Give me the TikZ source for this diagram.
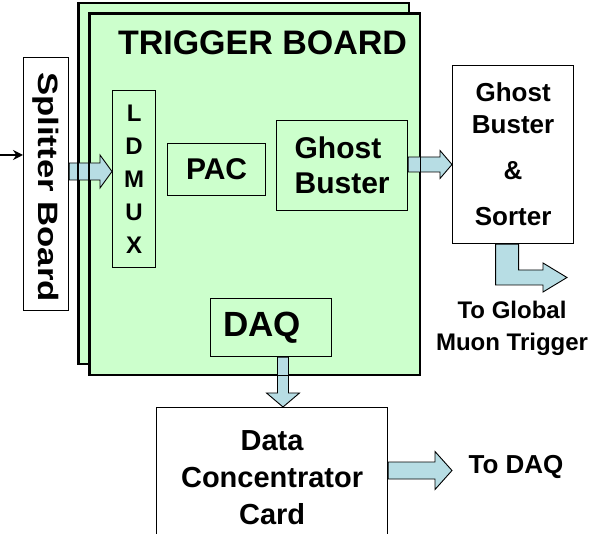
\documentclass[tikz,border=0pt]{standalone}
\usepackage{fontspec}
\setmainfont{Liberation Sans}
\usetikzlibrary{calc,arrows.meta}
\definecolor{boardgreen}{RGB}{204,255,204}
\definecolor{arrowblue}{RGB}{183,221,228}
\newcommand{\fs}[2]{\fontsize{#1}{#2}\selectfont\bfseries}
% fat arrows: tail, tip, shaft half width, head half width, head length
\newcommand{\fatH}[5]{\draw[fat] let \p1=(#1), \p2=(#2) in (\x1,\y2+#3) -- (\x2-#5,\y2+#3) -- (\x2-#5,\y2+#4) -- (\x2,\y2) -- (\x2-#5,\y2-#4) -- (\x2-#5,\y2-#3) -- (\x1,\y2-#3) -- cycle;}
\newcommand{\fatV}[5]{\draw[fat] let \p1=(#1), \p2=(#2) in (\x2-#3,\y1) -- (\x2-#3,\y2+#5) -- (\x2-#4,\y2+#5) -- (\x2,\y2) -- (\x2+#4,\y2+#5) -- (\x2+#3,\y2+#5) -- (\x2+#3,\y1) -- cycle;}

\begin{document}
\begin{tikzpicture}[x=1pt, y=-1pt,
    board/.style={draw, fill=boardgreen, line width=1.6pt, anchor=north west, minimum width=330pt, minimum height=361pt, inner sep=0pt},
    blk/.style={draw, line width=1.2pt, anchor=north west, inner sep=0pt, align=center},
    fat/.style={draw, fill=arrowblue, line width=0.9pt, line join=miter}]
    \useasboundingbox (0,0) rectangle (605,534);
    \clip (0,0) rectangle (605,534);

    % Trigger boards
    \node[board] (back) at (78,2) {};
    \node[board] (front) at (89,13) {};
    \node[font=\fs{34}{40}] (title) at (262.5,43) {TRIGGER BOARD};

    \node[blk, fill=white, minimum width=45pt, minimum height=253pt] (split) at (23,57) {};
    \node[rotate=-90, font=\fs{28}{34}] (splittext) at (45.5,187) {\scalebox{1.24}[1]{Splitter Board}};

    \node[blk, fill=boardgreen, minimum width=43pt, minimum height=177pt, font=\fs{24}{33}] (ldmux) at (112,90) {L\\D\\M\\U\\X};
    \node[blk, fill=boardgreen, minimum width=98pt, minimum height=52pt, font=\fs{30}{36}] (pac) at (167,143) {PAC};
    \node[blk, fill=boardgreen, minimum width=131pt, minimum height=90pt, font=\fs{30}{35}, align=left] (gb) at (276,120) {Ghost\\Buster};
    \node[blk, fill=boardgreen, minimum width=121pt, minimum height=58pt, font=\fs{35}{40}] (daq) at (210,298) {DAQ\hspace*{18pt}};

    \node[blk, fill=white, minimum width=121pt, minimum height=178pt, font=\fs{26}{32}] (gbs) at (452,65) {Ghost\\Buster\\[14pt]\&\\[14pt]Sorter};
    \node[blk, fill=white, minimum width=231pt, minimum height=140pt, font=\fs{29}{37}] (dcc) at (156,407) {Data\\Concentrator\\Card};

    \node[font=\fs{24}{32}, align=center] (gmt) at (512,328) {To Global\\Muon Trigger};
    \node[font=\fs{26}{30}] (todaq) at (516,467) {To DAQ};

    \coordinate (in) at (0,155);
    \coordinate (gmtout) at (567,277.5);
    \coordinate (daqout) at (452,470.5);

    % Arrows
    \draw[line width=1.5pt, -{Stealth[length=10pt,width=10pt]}] (in) -- (in -| split.west);
    \fatH{split.east}{ldmux.west |- 0,171.5}{8.5pt}{16.5pt}{12pt}
    \fatH{gb.east}{gbs.west |- 0,164.5}{7.5pt}{14pt}{12pt}
    \fatV{daq.south}{dcc.north -| 283,0}{5.5pt}{16.5pt}{14pt}
    \fatH{dcc.east}{daqout}{8.5pt}{19pt}{17pt}
    \draw[fat] let \p1=(gbs.south), \p2=(gmtout) in (\x1-17.5pt,\y1) -- (\x1-17.5pt,\y2-7.5pt) -- (\x2-24pt,\y2-7.5pt) -- (\x2-24pt,\y2-14.5pt) -- (\x2,\y2) -- (\x2-24pt,\y2+14.5pt) -- (\x2-24pt,\y2+7.5pt) -- (\x1+5.5pt,\y2+7.5pt) -- (\x1+5.5pt,\y1) -- cycle;

    % board edges over the arrows
    \draw[line width=1.6pt] (back.north west) -- (back.south west);
    \draw[line width=1.6pt] (front.north west) rectangle (front.south east);
\end{tikzpicture}
\end{document}
